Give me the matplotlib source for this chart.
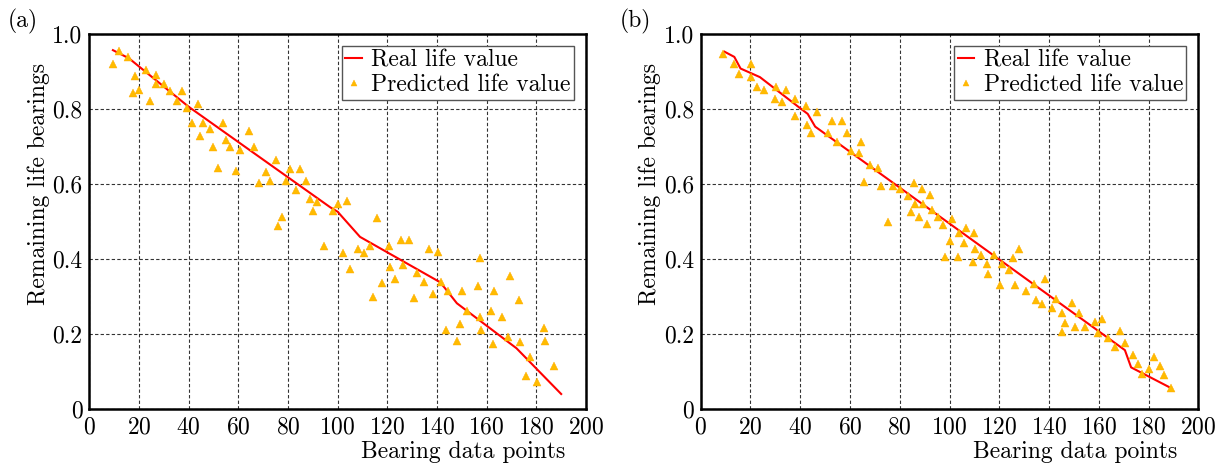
import matplotlib
matplotlib.use('Agg')
import matplotlib.pyplot as plt

plt.rcParams['font.family'] = ['cmr10', 'DejaVu Serif']
plt.rcParams['mathtext.fontset'] = 'cm'
plt.rcParams['axes.formatter.use_mathtext'] = True
plt.rcParams['font.size'] = 17

# (a) real life curve and predictions
real_a_x = [9.5, 16, 40, 97, 100, 109, 141, 143, 148, 172, 190]
real_a_y = [0.957, 0.935, 0.806, 0.538, 0.526, 0.459, 0.339, 0.324, 0.282, 0.162, 0.040]
pred_a_x = [9.7, 12.0, 15.7, 17.5, 18.5, 20.1, 22.7, 24.6, 26.9, 26.9,
            30.2, 32.5, 35.3, 37.2, 39.2, 41.2, 43.8, 44.7, 45.9, 48.6,
            49.8, 51.7, 53.9, 55.2, 56.8, 58.9, 60.8, 64.3, 66.2, 68.4,
            71.0, 72.6, 75.0, 76.1, 77.7, 79.2, 80.8, 83.1, 84.8, 87.1,
            88.7, 90.1, 91.8, 94.5, 98.0, 100.1, 102.3, 103.7, 105.0, 108.1,
            110.7, 112.9, 114.3, 116.0, 118.0, 120.6, 121.1, 123.2, 125.4, 126.4,
            128.7, 130.6, 131.8, 134.7, 136.8, 138.4, 140.5, 141.6, 143.7, 144.5,
            147.9, 149.4, 149.9, 152.1, 156.5, 157.3, 157.3, 157.8, 161.6, 162.5,
            163.1, 166.3, 168.7, 169.5, 173.1, 173.5, 175.7, 177.3, 180.2, 182.9,
            183.6, 187.2]
pred_a_y = [0.919, 0.955, 0.938, 0.844, 0.887, 0.851, 0.904, 0.822, 0.892, 0.866,
            0.866, 0.849, 0.822, 0.849, 0.803, 0.763, 0.813, 0.727, 0.763, 0.746,
            0.699, 0.644, 0.763, 0.717, 0.699, 0.635, 0.691, 0.742, 0.699, 0.602,
            0.631, 0.607, 0.663, 0.489, 0.513, 0.607, 0.640, 0.584, 0.640, 0.607,
            0.561, 0.528, 0.553, 0.434, 0.528, 0.546, 0.417, 0.555, 0.374, 0.428,
            0.417, 0.434, 0.300, 0.509, 0.335, 0.434, 0.378, 0.346, 0.452, 0.384,
            0.452, 0.295, 0.364, 0.339, 0.427, 0.308, 0.420, 0.339, 0.212, 0.315,
            0.181, 0.226, 0.315, 0.261, 0.329, 0.402, 0.246, 0.212, 0.261, 0.173,
            0.315, 0.246, 0.193, 0.356, 0.290, 0.179, 0.088, 0.139, 0.072, 0.215,
            0.181, 0.116]

# (b) real life curve and predictions
real_b_x = [9.5, 13.5, 16, 23.8, 40, 43, 46, 170.5, 173, 189]
real_b_y = [0.953, 0.939, 0.908, 0.885, 0.802, 0.787, 0.753, 0.157, 0.111, 0.056]
pred_b_x = [9.1, 13.5, 15.4, 20.2, 20.2, 22.6, 25.5, 29.8, 30.4, 32.7,
            34.1, 37.9, 37.9, 42.2, 42.8, 44.4, 46.8, 51.0, 52.6, 54.7,
            56.6, 58.9, 60.4, 63.6, 64.4, 65.6, 68.0, 71.2, 72.3, 75.3,
            77.2, 80.0, 83.3, 84.6, 85.9, 86.3, 87.7, 89.0, 89.3, 90.9,
            92.1, 92.8, 95.2, 97.3, 98.0, 100.0, 101.0, 103.6, 103.9, 105.7,
            106.8, 109.4, 109.9, 110.3, 112.6, 115.0, 115.5, 117.8, 120.3, 121.0,
            124.1, 125.7, 126.3, 128.0, 130.9, 133.9, 134.7, 137.3, 138.3, 141.2,
            143.0, 145.2, 145.4, 146.6, 149.2, 150.6, 152.0, 154.5, 158.5, 159.7,
            161.3, 163.7, 166.5, 168.5, 170.7, 173.7, 175.7, 177.2, 180.2, 182.0,
            184.5, 186.2, 189.0]
pred_b_y = [0.946, 0.919, 0.894, 0.919, 0.886, 0.860, 0.852, 0.828, 0.860, 0.819,
            0.852, 0.826, 0.782, 0.808, 0.758, 0.735, 0.791, 0.735, 0.768, 0.711,
            0.768, 0.735, 0.689, 0.682, 0.712, 0.605, 0.651, 0.644, 0.596, 0.498,
            0.596, 0.588, 0.569, 0.525, 0.602, 0.546, 0.511, 0.587, 0.546, 0.493,
            0.570, 0.532, 0.512, 0.490, 0.406, 0.449, 0.508, 0.406, 0.469, 0.444,
            0.484, 0.393, 0.470, 0.426, 0.411, 0.388, 0.361, 0.411, 0.332, 0.386,
            0.370, 0.402, 0.332, 0.428, 0.314, 0.333, 0.292, 0.279, 0.348, 0.269,
            0.294, 0.257, 0.206, 0.230, 0.283, 0.218, 0.257, 0.218, 0.232, 0.203,
            0.240, 0.190, 0.166, 0.208, 0.176, 0.144, 0.119, 0.093, 0.108, 0.140,
            0.115, 0.091, 0.057]

xticks = [0, 20, 40, 60, 80, 100, 120, 140, 160, 180, 200]
yticks = [0, 0.2, 0.4, 0.6, 0.8, 1.0]
ytick_labels = ['0', '0.2', '0.4', '0.6', '0.8', '1.0']

fig = plt.figure(figsize=(12.27, 4.66), dpi=100)
ax1 = fig.add_axes([0.0728, 0.1223, 0.4048, 0.8047])
ax2 = fig.add_axes([0.5711, 0.1223, 0.4055, 0.8047])

panels = [(ax1, real_a_x, real_a_y, pred_a_x, pred_a_y, '(a)', 0.006),
          (ax2, real_b_x, real_b_y, pred_b_x, pred_b_y, '(b)', 0.505)]

for ax, rx, ry, px, py, tag, tx in panels:
    ax.plot(rx, ry, color='red', lw=1.5, label='Real life value', zorder=3)
    ax.plot(px, py, ls='none', marker='^', ms=6, color='#ffbb00',
            mec='#ffaa00', mew=0.3, label='Predicted life value', zorder=4)

    ax.set_xlim(0, 200)
    ax.set_ylim(0, 1.0)
    ax.set_xticks(xticks)
    ax.set_yticks(yticks)
    ax.set_yticklabels(ytick_labels)
    ax.tick_params(length=0, pad=5, labelsize=17)
    ax.grid(True, color='k', ls=(0, (3, 2)), lw=0.8, alpha=0.8)
    ax.set_axisbelow(True)
    for s in ax.spines.values():
        s.set_linewidth(1.8)

    ax.set_xlabel('Bearing data points', fontsize=17)
    ax.xaxis.set_label_coords(0.753, -0.085)
    ax.set_ylabel('Remaining life bearings', fontsize=17)
    ax.yaxis.set_label_coords(-0.08, 0.6)

    leg = ax.legend(loc='upper right', fontsize=17, fancybox=False,
                    framealpha=1, edgecolor='#555555', handlelength=0.7,
                    handletextpad=0.4, borderpad=0.15, labelspacing=0.1,
                    markerscale=0.7, borderaxespad=0.5)
    leg.get_frame().set_linewidth(1.0)

    fig.text(tx, 0.955, tag, ha='left', va='center', fontsize=17)

fig.savefig('out.png', dpi=100)
